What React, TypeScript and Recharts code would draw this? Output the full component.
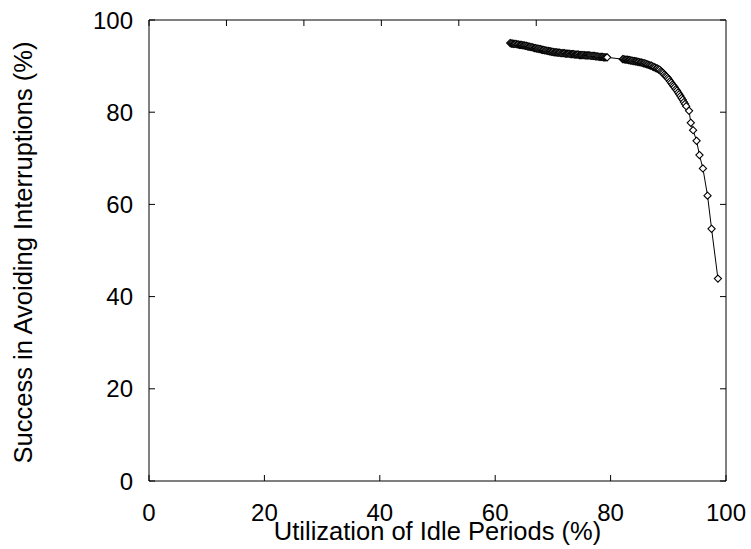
import React from 'react';
import { LineChart, Line, XAxis, YAxis, Label } from 'recharts';

// Utilization of idle periods (%) — x values
const utilization = [
  62.6, 62.8, 63.0, 63.2, 63.4, 63.6, 63.8, 64.0, 64.2, 64.4,
  64.6, 64.8, 65.0, 65.2, 65.4, 65.6, 65.8, 66.0, 66.2, 66.4,
  66.6, 66.8, 67.0, 67.2, 67.4, 67.6, 67.8, 68.0, 68.2, 68.4,
  68.6, 68.8, 69.0, 69.2, 69.4, 69.6, 69.8, 70.0, 70.2, 70.4,
  70.6, 70.8, 71.0, 71.2, 71.4, 71.6, 71.8, 72.0, 72.2, 72.4,
  72.6, 72.8, 73.0, 73.2, 73.4, 73.6, 73.8, 74.0, 74.2, 74.4,
  74.6, 74.8, 75.0, 75.2, 75.4, 75.6, 75.8, 76.0, 76.2, 76.4,
  76.6, 76.8, 77.0, 77.2, 77.4, 77.6, 77.8, 78.0, 78.2, 78.4,
  78.6, 78.8, 79.0, 79.2, 79.4,
  82.1, 82.3, 82.5, 82.7, 82.9, 83.1, 83.3, 83.5, 83.7, 83.9,
  84.1, 84.3, 84.5, 84.7, 84.9, 85.1, 85.3, 85.5, 85.7, 85.9,
  86.1, 86.3, 86.5, 86.7, 86.9, 87.1, 87.3, 87.5, 87.7, 87.9,
  88.1, 88.3, 88.5, 88.7, 88.9, 89.1, 89.3, 89.5, 89.7, 89.9,
  90.1, 90.3, 90.5, 90.7, 90.9, 91.1, 91.3, 91.5, 91.7, 91.9,
  92.1, 92.3, 92.5, 92.7, 92.9, 93.1,
  93.6, 93.9, 94.3, 94.9, 95.4, 96.0, 96.8, 97.5, 98.6,
];

// Success in avoiding interruptions (%) — y values
const success = [
  95.0, 94.9, 94.9, 94.8, 94.8, 94.8, 94.7, 94.7, 94.6, 94.6,
  94.6, 94.5, 94.5, 94.4, 94.4, 94.3, 94.2, 94.2, 94.1, 94.1,
  94.0, 93.9, 93.9, 93.8, 93.8, 93.7, 93.7, 93.6, 93.5, 93.5,
  93.4, 93.4, 93.3, 93.3, 93.2, 93.2, 93.1, 93.1, 93.0, 93.0,
  93.0, 92.9, 92.9, 92.9, 92.8, 92.8, 92.8, 92.8, 92.7, 92.7,
  92.7, 92.7, 92.6, 92.6, 92.6, 92.6, 92.5, 92.5, 92.5, 92.5,
  92.4, 92.4, 92.4, 92.4, 92.4, 92.3, 92.3, 92.3, 92.3, 92.3,
  92.2, 92.2, 92.2, 92.2, 92.1, 92.1, 92.1, 92.0, 92.0, 92.0,
  92.0, 91.9, 91.9, 91.9, 91.9,
  91.5, 91.5, 91.4, 91.4, 91.4, 91.3, 91.3, 91.2, 91.2, 91.1,
  91.1, 91.0, 91.0, 90.9, 90.9, 90.8, 90.8, 90.7, 90.6, 90.6,
  90.5, 90.4, 90.3, 90.2, 90.1, 90.1, 89.9, 89.8, 89.7, 89.5,
  89.5, 89.3, 89.2, 88.9, 88.7, 88.5, 88.2, 87.9, 87.7, 87.4,
  87.1, 86.7, 86.4, 86.0, 85.7, 85.4, 85.0, 84.7, 84.3, 83.9,
  83.5, 83.1, 82.7, 82.2, 81.8, 81.3,
  80.3, 77.7, 76.1, 73.8, 70.7, 67.8, 61.9, 54.7, 43.9,
];

const xTicks = [0, 20, 40, 60, 80, 100];
const yTicks = [0, 20, 40, 60, 80, 100];
const xTitle = 'Utilization of Idle Periods (%)';
const yTitle = 'Success in Avoiding Interruptions (%)';

const data = utilization.map((u, i) => ({ u, s: success[i] }));

const FONT = '"Liberation Sans", Arial, Helvetica, sans-serif';
const TICK_LEN = 6;

const BottomTick = (props: any) => {
  const { x, y, payload } = props;
  return (
    <g>
      <line x1={x} y1={y} x2={x} y2={y - TICK_LEN} stroke="#000" strokeWidth={1} />
      <text x={x} y={y + 40} textAnchor="middle" fontSize={24} fontFamily={FONT} fill="#000">
        {payload.value}
      </text>
    </g>
  );
};

const TopTick = (props: any) => {
  const { x, y } = props;
  return <line x1={x} y1={y} x2={x} y2={y + TICK_LEN} stroke="#000" strokeWidth={1} />;
};

const LeftTick = (props: any) => {
  const { x, y, payload } = props;
  return (
    <g>
      <line x1={x} y1={y} x2={x + TICK_LEN} y2={y} stroke="#000" strokeWidth={1} />
      <text x={x - 16} y={y + 8.6} textAnchor="end" fontSize={24} fontFamily={FONT} fill="#000">
        {payload.value}
      </text>
    </g>
  );
};

const RightTick = (props: any) => {
  const { x, y } = props;
  return <line x1={x} y1={y} x2={x - TICK_LEN} y2={y} stroke="#000" strokeWidth={1} />;
};

const XTitle = (props: any) => {
  const vb = props.viewBox || { x: 149, width: 577, y: 481 };
  return (
    <text x={vb.x + vb.width / 2} y={vb.y + 59} textAnchor="middle" fontSize={25.5} fontFamily={FONT} fill="#000">
      {xTitle}
    </text>
  );
};

const YTitle = (props: any) => {
  const vb = props.viewBox || { x: 0, y: 20, height: 461 };
  const cx = 32;
  const cy = vb.y + vb.height / 2 + 2;
  return (
    <text x={cx} y={cy} transform={`rotate(-90, ${cx}, ${cy})`} textAnchor="middle" fontSize={25.5} fontFamily={FONT} fill="#000">
      {yTitle}
    </text>
  );
};

const Diamond = (props: any) => {
  const { cx, cy, index } = props;
  if (cx == null || cy == null) return <g key={`d-${index}`} />;
  const r = 3.6;
  return (
    <path
      key={`d-${index}`}
      d={`M${cx},${cy - r}L${cx + r},${cy}L${cx},${cy + r}L${cx - r},${cy}Z`}
      fill="#fff"
      stroke="#000"
      strokeWidth={1.1}
    />
  );
};

export default function App() {
  return (
    <div style={{ position: 'absolute', left: 0, top: 0, background: '#fff' }}>
      <LineChart width={751} height={549} data={data} margin={{ top: 0, right: 0, bottom: 0, left: 0 }}>
        <XAxis
          dataKey="u"
          type="number"
          domain={[0, 100]}
          ticks={xTicks}
          interval={0}
          height={68}
          tickSize={0}
          tickMargin={0}
          tickLine={false}
          axisLine={{ stroke: '#000', strokeWidth: 1 }}
          tick={BottomTick}
          allowDataOverflow
        >
          <Label content={XTitle} />
        </XAxis>
        <XAxis
          xAxisId="top"
          orientation="top"
          type="number"
          domain={[0, 100]}
          ticks={xTicks}
          interval={0}
          height={20}
          tickSize={0}
          tickMargin={0}
          tickLine={false}
          axisLine={{ stroke: '#000', strokeWidth: 1 }}
          tick={TopTick}
          allowDataOverflow
        />
        <YAxis
          type="number"
          domain={[0, 100]}
          ticks={yTicks}
          interval={0}
          width={149}
          tickSize={0}
          tickMargin={0}
          tickLine={false}
          axisLine={{ stroke: '#000', strokeWidth: 1 }}
          tick={LeftTick}
          allowDataOverflow
        >
          <Label content={YTitle} />
        </YAxis>
        <YAxis
          yAxisId="right"
          orientation="right"
          type="number"
          domain={[0, 100]}
          ticks={yTicks}
          interval={0}
          width={25}
          tickSize={0}
          tickMargin={0}
          tickLine={false}
          axisLine={{ stroke: '#000', strokeWidth: 1 }}
          tick={RightTick}
          allowDataOverflow
        />
        <Line
          dataKey="s"
          type="linear"
          stroke="#000"
          strokeWidth={1}
          dot={Diamond}
          activeDot={false}
          isAnimationActive={false}
        />
      </LineChart>
    </div>
  );
}
